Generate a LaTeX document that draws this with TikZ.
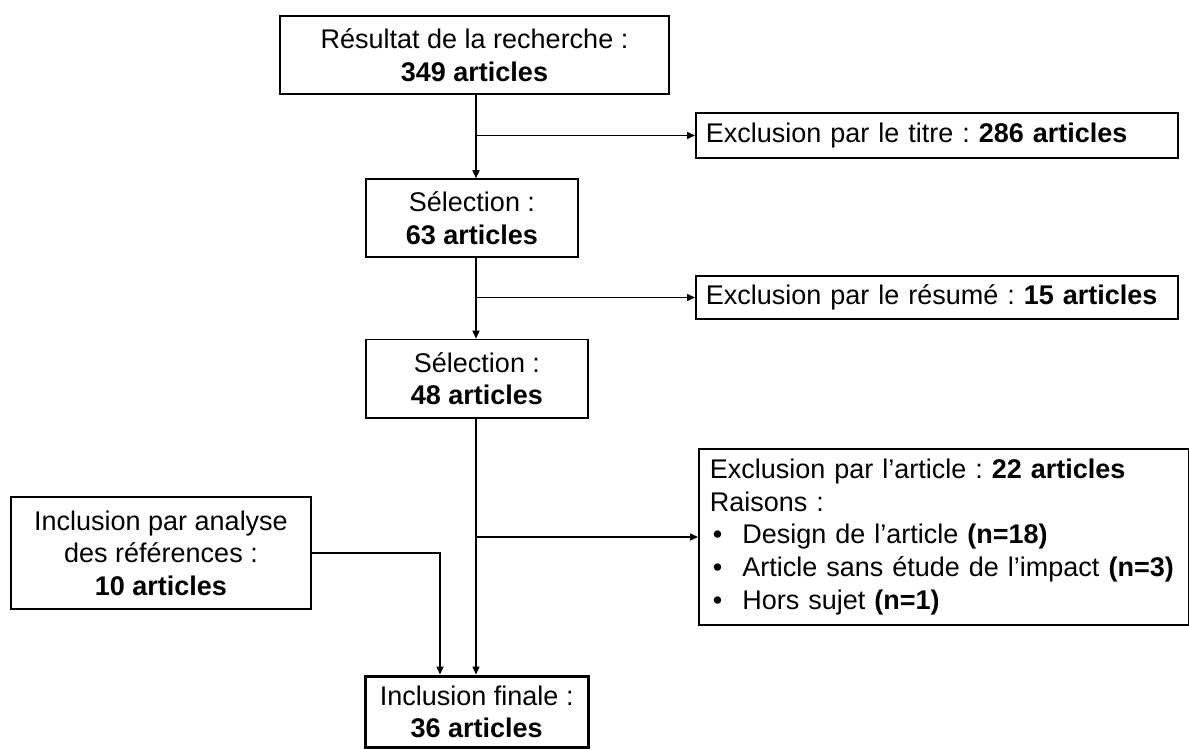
\documentclass[tikz,border=0pt]{standalone}
\usepackage{fontspec}
\setmainfont{Liberation Sans}
\usetikzlibrary{arrows.meta}
\frenchspacing
\begin{document}
\begin{tikzpicture}[x=1pt,y=-1pt,
  txt/.style={font=\fontsize{27}{32.6}\selectfont},
  box/.style={txt, draw, line width=1.5pt, inner sep=0pt, align=center},
  lbox/.style={txt, draw, line width=1.5pt, inner ysep=0pt, inner xsep=10pt, align=left, anchor=west},
  arr/.style={line width=1.5pt, -{Triangle[length=8pt,width=7pt]}}]
\fill[white] (0,0) rectangle (1189,749);
\useasboundingbox (0,0) rectangle (1189,749);
\coordinate (sp) at (476,0);
\coordinate (lx) at (440,0);
\node[box, minimum width=389, minimum height=78] (b1) at (474.5,55) {Résultat de la recherche :\\\textbf{349 articles}};
\node[lbox, text width=462pt, minimum height=45pt] (e1) at (695,135.5) {Exclusion par le titre : \textbf{286 articles}};
\node[box, minimum width=212, minimum height=78] (b2) at (472,218) {Sélection :\\\textbf{63 articles}};
\node[lbox, text width=462pt, minimum height=43pt] (e2) at (695,297.5) {Exclusion par le résumé : \textbf{15 articles}};
\node[box, minimum width=222, minimum height=78.5] (b3) at (477,378.7) {Sélection :\\\textbf{48 articles}};
\node[lbox, text width=468pt, inner xsep=11pt, minimum height=176pt] (e3) at (698,537) {Exclusion par l’article : \textbf{22 articles}\\
Raisons :\\
\hspace*{3pt}\makebox[29.6pt][l]{•}Design de l’article \textbf{(n=18)}\\
\hspace*{3pt}\makebox[29.6pt][l]{•}Article sans étude de l’impact \textbf{(n=3)}\\
\hspace*{3pt}\makebox[29.6pt][l]{•}Hors sujet \textbf{(n=1)}};
\node[box, minimum width=300, minimum height=112] (inc) at (161,553) {Inclusion par analyse\\des références :\\\textbf{10 articles}};
\node[box, line width=3pt, minimum width=222.5, minimum height=71.5] (fin) at (476.75,711.75) {Inclusion finale :\\\textbf{36 articles}};
\draw[arr] (b1.south -| sp) -- (b2.north -| sp);
\draw[arr] (e1.west -| sp) -- (e1.west);
\draw[arr] (b2.south -| sp) -- (b3.north -| sp);
\draw[arr] (e2.west -| sp) -- (e2.west);
\draw[arr] (b3.south -| sp) -- (fin.north -| sp);
\draw[arr] (e3.west -| sp) -- (e3.west);
\draw[arr] (inc.east) -| (fin.north -| lx);
\end{tikzpicture}
\end{document}
